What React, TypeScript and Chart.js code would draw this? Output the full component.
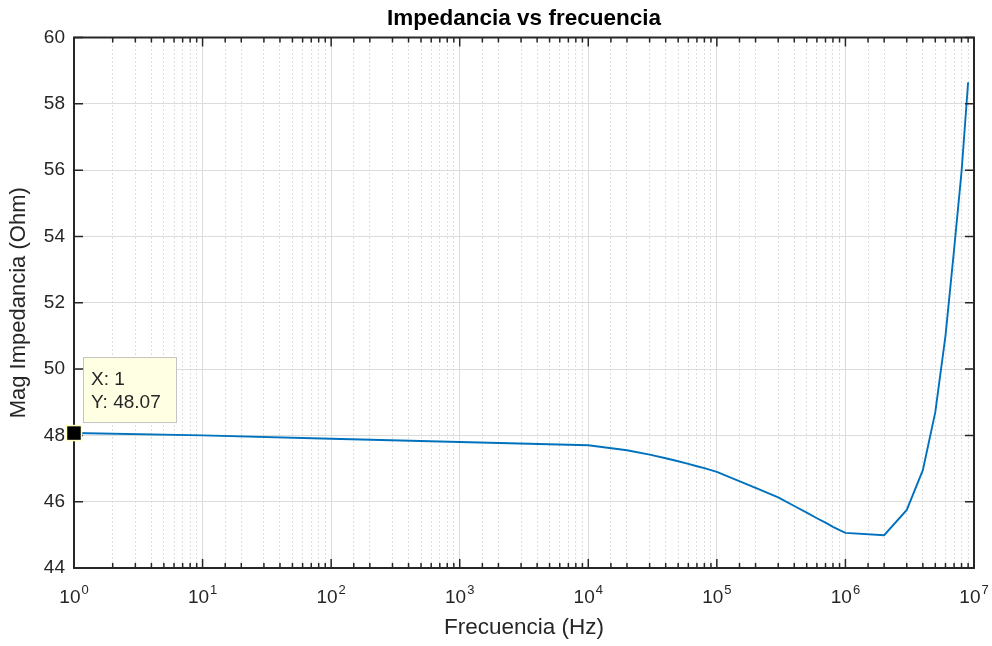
import React, { useEffect, useRef } from 'react';
import { Chart, registerables } from 'chart.js';

Chart.register(...registerables);

// ---- data ----
const frequencies = [
  1, 10, 100, 1000,
  10000, 20000, 30000, 40000, 50000, 60000, 70000, 80000, 90000,
  100000, 200000, 300000, 400000, 500000, 600000, 700000, 800000, 900000,
  1000000, 2000000, 3000000, 4000000, 5000000, 6000000, 7000000, 8000000, 9000000,
];
const impedance = [
  48.07, 48.0, 47.9, 47.8,
  47.7, 47.55, 47.42, 47.31, 47.22, 47.14, 47.07, 47.01, 46.95,
  46.9, 46.42, 46.13, 45.87, 45.67, 45.5, 45.37, 45.24, 45.14,
  45.06, 44.99, 45.75, 46.95, 48.7, 51.0, 53.6, 55.95, 58.65,
];
const xDecades = [1, 10, 100, 1000, 10000, 100000, 1000000, 10000000];
const xTickBase = '10';
const xTickExponents = ['0', '1', '2', '3', '4', '5', '6', '7'];
const yTickValues = [44, 46, 48, 50, 52, 54, 56, 58, 60];
const tipX = 1;
const tipY = 48.07;

const titleText = 'Impedancia vs frecuencia';
const xTitle = 'Frecuencia (Hz)';
const yTitle = 'Mag Impedancia (Ohm)';

const FONT = '"Liberation Sans", Arial, Helvetica, sans-serif';
const TEXT = '#262626';

const decadeIndex = (v: number) => xDecades.findIndex((d) => Math.abs(d - v) / d < 1e-9);
const isDecade = (v: number | undefined) => v !== undefined && decadeIndex(v) >= 0;

const matlabAxes = {
  id: 'matlabAxes',
  afterDraw(chart: any) {
    const { ctx, chartArea: a, scales } = chart;
    const xs = scales.x;
    const ys = scales.y;
    ctx.save();

    // x tick labels: 10 with raised exponent
    ctx.fillStyle = TEXT;
    ctx.textBaseline = 'alphabetic';
    ctx.textAlign = 'left';
    xDecades.forEach((d, i) => {
      const px = xs.getPixelForValue(d);
      ctx.font = `19px ${FONT}`;
      const wb = ctx.measureText(xTickBase).width;
      ctx.font = `13px ${FONT}`;
      const we = ctx.measureText(xTickExponents[i]).width;
      const total = wb + 1 + we;
      const x0 = px - total / 2;
      ctx.font = `19px ${FONT}`;
      ctx.fillText(xTickBase, x0, a.bottom + 35);
      ctx.font = `13px ${FONT}`;
      ctx.fillText(xTickExponents[i], x0 + wb + 1, a.bottom + 26);
    });

    // inward tick marks
    ctx.strokeStyle = TEXT;
    ctx.lineWidth = 1.5;
    ctx.beginPath();
    xs.ticks.forEach((t: any) => {
      const px = xs.getPixelForValue(t.value);
      const len = isDecade(t.value) ? 9 : 5;
      ctx.moveTo(px, a.bottom);
      ctx.lineTo(px, a.bottom - len);
      ctx.moveTo(px, a.top);
      ctx.lineTo(px, a.top + len);
    });
    ys.ticks.forEach((t: any) => {
      const py = ys.getPixelForValue(t.value);
      ctx.moveTo(a.left, py);
      ctx.lineTo(a.left + 9, py);
      ctx.moveTo(a.right, py);
      ctx.lineTo(a.right - 9, py);
    });
    ctx.stroke();
    ctx.lineWidth = 2;
    ctx.strokeRect(a.left, a.top, a.right - a.left, a.bottom - a.top);

    // data tip
    const px = xs.getPixelForValue(tipX);
    const py = ys.getPixelForValue(tipY);
    const bx = px + 9;
    const by = py - 76;
    const bw = 93;
    const bh = 65;
    ctx.fillStyle = '#ffffe3';
    ctx.fillRect(bx, by, bw, bh);
    ctx.strokeStyle = '#c4c4c4';
    ctx.lineWidth = 1;
    ctx.strokeRect(bx + 0.5, by + 0.5, bw, bh);
    ctx.fillStyle = TEXT;
    ctx.font = `19px ${FONT}`;
    ctx.textBaseline = 'middle';
    ctx.textAlign = 'left';
    ctx.fillText(`X: ${tipX}`, bx + 8, by + 23);
    ctx.fillText(`Y: ${tipY.toFixed(2)}`, bx + 8, by + 46);
    ctx.fillStyle = '#000';
    ctx.strokeStyle = '#ffffc0';
    ctx.lineWidth = 1.5;
    ctx.fillRect(px - 7, py - 7, 14, 14);
    ctx.strokeRect(px - 7.5, py - 7.5, 15, 15);
    ctx.restore();
  },
};

export default function App() {
  const ref = useRef<HTMLCanvasElement | null>(null);
  useEffect(() => {
    if (!ref.current) return;
    const chart = new Chart(ref.current, {
      type: 'line',
      data: {
        datasets: [
          {
            data: frequencies.map((f, i) => ({ x: f, y: impedance[i] })),
            borderColor: '#0072BD',
            borderWidth: 1.9,
            pointRadius: 0,
            tension: 0,
            fill: false,
          },
        ],
      },
      plugins: [matlabAxes],
      options: {
        animation: false,
        responsive: true,
        maintainAspectRatio: false,
        layout: { padding: { left: 0, right: 18, top: 0, bottom: 0 } },
        plugins: {
          legend: { display: false },
          tooltip: { enabled: false },
          title: {
            display: true,
            text: titleText,
            fullSize: false,
            color: '#000',
            font: { family: FONT, size: 22.5, weight: 'bold' },
            padding: { top: 5.2, bottom: 5.3 },
          },
        },
        scales: {
          x: {
            type: 'logarithmic',
            min: 1,
            max: 10000000,
            afterFit: (s: any) => {
              s.height = 78;
              s.paddingLeft = 0;
              s.paddingRight = 0;
            },
            border: {
              display: false,
              dash: (c: any) => (c.tick && !isDecade(c.tick.value) ? [1, 3] : []),
            },
            grid: {
              drawTicks: false,
              lineWidth: 1,
              color: (c: any) => (c.tick && !isDecade(c.tick.value) ? '#bdbdbd' : '#dcdcdc'),
            },
            ticks: {
              display: false,
              autoSkip: false,
              maxRotation: 0,
            },
            title: {
              display: true,
              text: xTitle,
              color: TEXT,
              font: { family: FONT, size: 22.5 },
              padding: { top: 0, bottom: 4.5 },
            },
          },
          y: {
            type: 'linear',
            min: 44,
            max: 60,
            afterFit: (s: any) => {
              s.width = 74;
            },
            afterBuildTicks: (s: any) => {
              s.ticks = yTickValues.map((v) => ({ value: v }));
            },
            border: { display: false },
            grid: { drawTicks: false, color: '#dcdcdc', lineWidth: 1 },
            ticks: {
              padding: 9,
              color: TEXT,
              font: { family: FONT, size: 19 },
            },
            title: {
              display: true,
              text: yTitle,
              color: TEXT,
              font: { family: FONT, size: 22 },
              padding: { top: 6, bottom: 0 },
            },
          },
        },
      },
    });
    return () => chart.destroy();
  }, []);
  return (
    <div style={{ position: 'absolute', left: 0, top: 0, width: 992, height: 646, background: '#fff' }}>
      <canvas ref={ref} />
    </div>
  );
}
